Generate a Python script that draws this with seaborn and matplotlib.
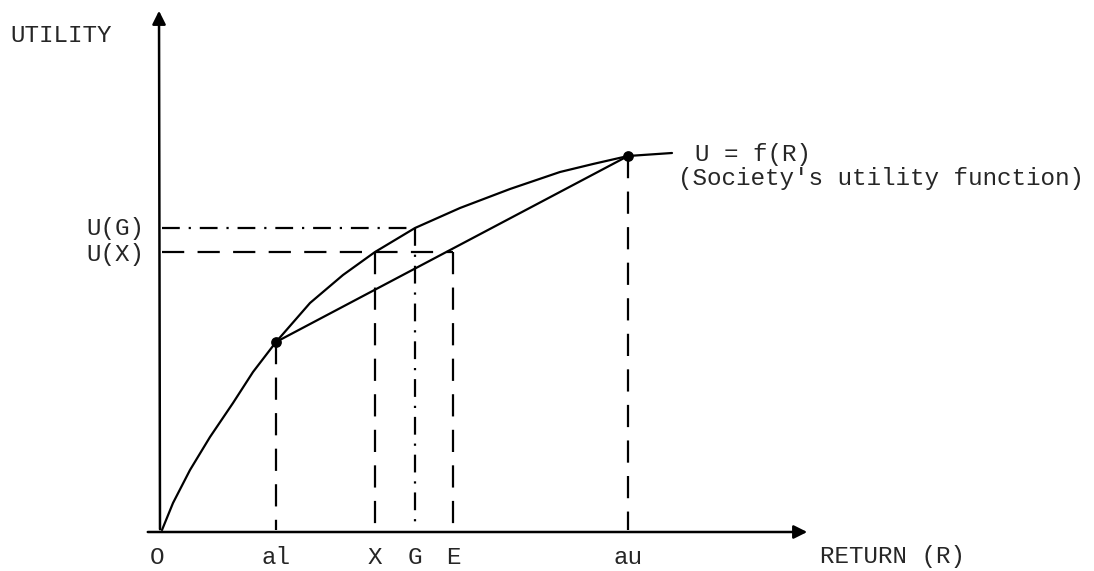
import numpy as np
import pandas as pd
import matplotlib
matplotlib.use("Agg")
import matplotlib.pyplot as plt
import seaborn as sns

# Utility curve (return, utility), arbitrary units
curve_r = [0, 11, 28, 48, 71, 91, 114, 148, 181, 213, 253, 298, 348, 398, 431, 466, 510]
curve_u = [0, 27, 60, 93, 127, 158, 188, 227, 255, 278, 302, 322, 341, 358, 366, 374, 377]

# Marked returns on the horizontal axis
mark_names = ["al", "X", "G", "E", "au"]
mark_r = [114, 213, 253, 291, 466]

# Utility levels
u_al = 188
u_au = 374
u_x = 278
u_g = 302

curve_df = pd.DataFrame({"R": curve_r, "U": curve_u})
chord_df = pd.DataFrame({"R": [mark_r[0], mark_r[4]], "U": [u_al, u_au]})

sns.set_style("white")
plt.rcParams["font.family"] = ["Liberation Mono", "DejaVu Sans Mono"]

fig = plt.figure(figsize=(10.94, 5.71), dpi=100)
ax = fig.add_axes([0, 0, 1, 1])
ax.set_xlim(-162, 932)
ax.set_ylim(-41, 530)
ax.axis("off")

lw = 1.6
dashed = (0, (10, 6))
dashdot = (0, (8, 4, 1, 4))

# Axes with arrow heads
ax.annotate("", xy=(-3, 522), xytext=(-2, -2),
            arrowprops=dict(arrowstyle="-|>", mutation_scale=20, color="black", lw=1.8))
ax.annotate("", xy=(648, -2), xytext=(-17, -2),
            arrowprops=dict(arrowstyle="-|>", mutation_scale=20, color="black", lw=1.8))

# Utility curve and chord
sns.lineplot(data=curve_df, x="R", y="U", sort=False, color="black", lw=lw, ax=ax)
sns.lineplot(data=chord_df, x="R", y="U", sort=False, color="black", lw=lw, ax=ax)
ax.scatter([mark_r[0], mark_r[4]], [u_al, u_au], s=45, color="black", zorder=5)

# Vertical drop lines
ax.plot([mark_r[0], mark_r[0]], [u_al, 0], color="black", lw=lw, ls=dashed)
ax.plot([mark_r[1], mark_r[1]], [u_x, 0], color="black", lw=lw, ls=dashed)
ax.plot([mark_r[2], mark_r[2]], [u_g, 0], color="black", lw=lw, ls=dashdot)
ax.plot([mark_r[3], mark_r[3]], [u_x, 0], color="black", lw=lw, ls=dashed)
ax.plot([mark_r[4], mark_r[4]], [u_au, 0], color="black", lw=lw, ls=dashed)

# Horizontal lines
ax.plot([0, mark_r[2]], [u_g, u_g], color="black", lw=lw, ls=dashdot)
ax.plot([0, mark_r[3]], [u_x, u_x], color="black", lw=lw, ls=dashed)

fs = 17.5
ax.text(-152, 494, "UTILITY", fontsize=fs, ha="left", va="center")
ax.text(-18, u_g, "U(G)", fontsize=fs, ha="right", va="center")
ax.text(-18, u_x - 2, "U(X)", fontsize=fs, ha="right", va="center")
ax.text(533, 376, "U = f(R)", fontsize=fs, ha="left", va="center")
ax.text(516, 352, "(Society's utility function)", fontsize=fs, ha="left", va="center")
ax.text(-5, -27, "O", fontsize=fs, ha="center", va="center")
for name, r in zip(mark_names, mark_r):
    ax.text(r, -27, name, fontsize=fs, ha="center", va="center")
ax.text(658, -27, "RETURN (R)", fontsize=fs, ha="left", va="center")

fig.savefig("out.png", dpi=100)
